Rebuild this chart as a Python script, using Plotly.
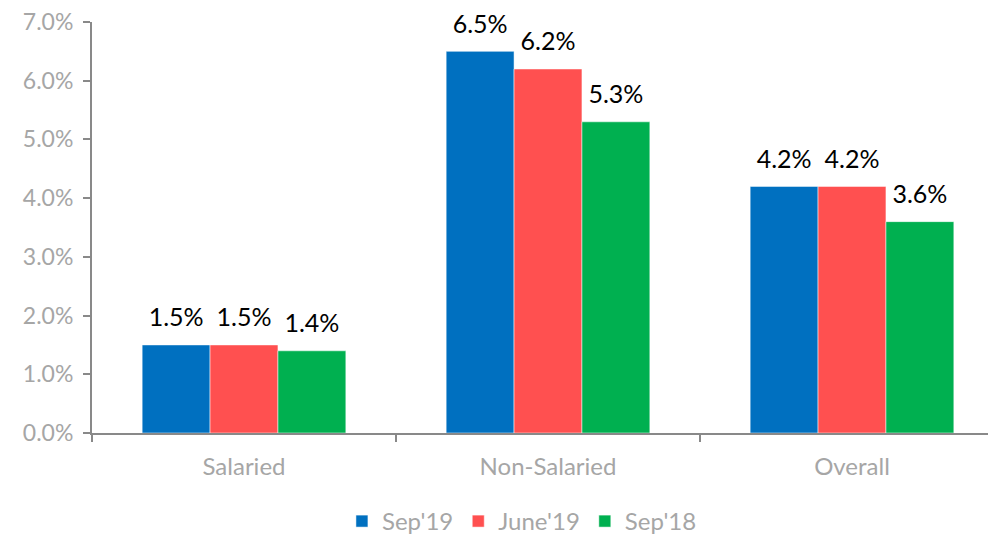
import plotly.graph_objects as go

categories = ["Salaried", "Non-Salaried", "Overall"]
series_names = ["Sep'19", "June'19", "Sep'18"]
sep19 = [0.015, 0.065, 0.042]
june19 = [0.015, 0.062, 0.042]
sep18 = [0.014, 0.053, 0.036]
colors = ["#0070C0", "#FF5050", "#00B050"]
y_ticks = [0.0, 0.01, 0.02, 0.03, 0.04, 0.05, 0.06, 0.07]

fig = go.Figure()
for i, (name, vals, col) in enumerate(zip(series_names, [sep19, june19, sep18], colors)):
    fig.add_trace(go.Bar(
        x=categories, y=vals, name=name, offsetgroup=str(i),
        marker=dict(color=col, line=dict(color="white", width=0.5)),
    ))
for i, vals in enumerate([sep19, june19, sep18]):
    fig.add_trace(go.Scatter(
        x=categories, y=vals, mode="markers+text", offsetgroup=str(i),
        marker=dict(size=18, opacity=0),
        texttemplate="%{y:.1%}", textposition="top center",
        textfont=dict(color="black", size=25, family="Lato, sans-serif"),
        showlegend=False, hoverinfo="skip", cliponaxis=False,
    ))

axis_col = "#898989"
tick_col = "#A6A6A6"
fig.update_layout(
    width=996, height=536,
    margin=dict(l=84, r=0, t=14, b=111, autoexpand=False),
    paper_bgcolor="white", plot_bgcolor="white",
    barmode="group", bargap=0.33, bargroupgap=0,
    scattermode="group", scattergap=0.33,
    font=dict(family="Lato, sans-serif", size=24, color=tick_col),
    showlegend=True,
    legend=dict(orientation="h", xref="container", yref="container",
                x=0.516, xanchor="center", y=0.0, yanchor="bottom",
                font=dict(size=24, color=tick_col), traceorder="normal"),
    xaxis=dict(range=[-0.5, 2.5], showline=True, linecolor=axis_col, linewidth=2,
               ticks="outside", tickson="boundaries", ticklen=7, tickcolor=axis_col,
               tickwidth=2, tickfont=dict(size=24, color=tick_col), showgrid=False,
               automargin=False, ticklabelstandoff=11, ticklabeloverflow="allow"),
    yaxis=dict(range=[0, 0.07], tickmode="array", tickvals=y_ticks,
               tickformat=".1%", showline=True,
               linecolor=axis_col, linewidth=2, ticks="outside", ticklen=7,
               tickcolor=axis_col, tickwidth=2, showgrid=False, zeroline=False,
               tickfont=dict(size=23, color=tick_col), automargin=False,
               ticklabelstandoff=5, ticklabeloverflow="allow"),
)

fig.write_html("out.html")
